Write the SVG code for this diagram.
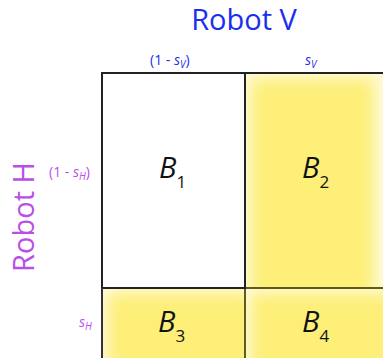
<svg xmlns="http://www.w3.org/2000/svg" width="383" height="358" viewBox="0 0 383 358">
<style>
.lbl{font-family:"Open Sans","Noto Sans",sans-serif}
.v{fill:#1a2ef0}
.h{fill:#b94ee8}
.b{font-family:"Open Sans","Noto Sans",sans-serif;font-style:italic;font-size:29px;fill:#111}
.sub{font-style:normal;font-size:17px}
.cell{stroke:#222;stroke-width:2}
.glow{fill:#fdef78;filter:url(#soft)}
.edge{fill:none;stroke:#5e5a20;stroke-width:2}
</style>
<defs>
<filter id="soft" x="-30%" y="-30%" width="160%" height="160%"><feGaussianBlur stdDeviation="8"/></filter>
<clipPath id="c2"><rect x="245" y="73" width="150" height="215"/></clipPath>
<clipPath id="c3"><rect x="102" y="288" width="143" height="80"/></clipPath>
<clipPath id="c4"><rect x="245" y="288" width="150" height="80"/></clipPath>
</defs>
<text class="lbl v" x="244" y="30" font-size="29" text-anchor="middle">Robot V</text>
<text class="lbl v" x="150" y="65" font-size="14">(1 - <tspan font-style="italic">s</tspan><tspan font-size="10" font-style="italic" dy="3">V</tspan><tspan dy="-3">)</tspan></text>
<text class="lbl v" x="305" y="65" font-size="14"><tspan font-style="italic">s</tspan><tspan font-size="10" font-style="italic" dy="3">V</tspan></text>
<text class="lbl h" transform="translate(34,217) rotate(-90)" font-size="29" text-anchor="middle">Robot H</text>
<text class="lbl h" x="49" y="177" font-size="14">(1 - <tspan font-style="italic">s</tspan><tspan font-size="10" font-style="italic" dy="3">H</tspan><tspan dy="-3">)</tspan></text>
<text class="lbl h" x="79" y="327" font-size="14"><tspan font-style="italic">s</tspan><tspan font-size="10" font-style="italic" dy="3">H</tspan></text>
<g id="B4"><rect x="245" y="288" width="150" height="80" fill="#fffbe2"/><g clip-path="url(#c4)"><rect class="glow" x="250" y="292" width="150" height="90"/></g><rect class="edge" x="245" y="288" width="150" height="80"/><text class="b" x="302" y="332">B<tspan class="sub" dy="10">4</tspan></text></g>
<g id="B3"><rect x="102" y="288" width="143" height="80" fill="#fffbe2"/><g clip-path="url(#c3)"><rect class="glow" x="107" y="292" width="150" height="90"/></g><rect class="edge" x="102" y="288" width="143" height="80"/><text class="b" x="158" y="332">B<tspan class="sub" dy="10">3</tspan></text></g>
<g id="B2"><rect x="245" y="73" width="150" height="215" fill="#fffbe2"/><g clip-path="url(#c2)"><rect class="glow" x="250" y="78" width="125" height="225"/></g><rect class="edge" x="245" y="73" width="150" height="215"/><text class="b" x="302" y="178">B<tspan class="sub" dy="10">2</tspan></text></g>
<g id="B1"><rect class="cell" x="102" y="73" width="143" height="215" fill="#fff"/><text class="b" x="159" y="178">B<tspan class="sub" dy="10">1</tspan></text></g>
<g id="connectors"><line x1="102" y1="73" x2="383" y2="73" stroke="#222" stroke-width="2"/><line x1="102" y1="288" x2="102" y2="358" stroke="#333" stroke-width="2"/></g>
</svg>
